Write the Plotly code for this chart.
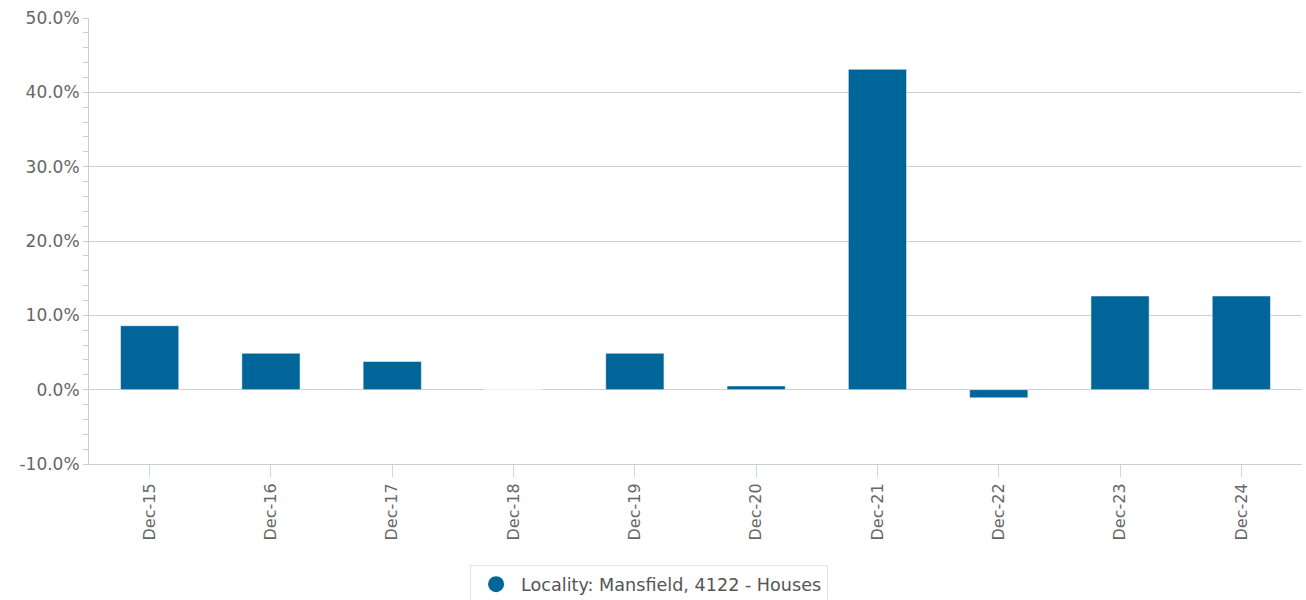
import plotly.graph_objects as go

categories = ["Dec-15", "Dec-16", "Dec-17", "Dec-18", "Dec-19",
              "Dec-20", "Dec-21", "Dec-22", "Dec-23", "Dec-24"]
growth = [8.6, 4.9, 3.8, 0.0, 4.9, 0.5, 43.1, -1.1, 12.6, 12.6]
series_name = "Locality: Mansfield, 4122 - Houses"
y_ticks = [-10, 0, 10, 20, 30, 40, 50]
y_tick_labels = [f"{v:.1f}%" for v in y_ticks]

BAR = "#006699"
FONT = "DejaVu Sans"

fig = go.Figure()
fig.add_trace(go.Bar(
    x=categories, y=growth, marker=dict(color=BAR, line=dict(color="rgba(255,255,255,0.5)", width=1)),
    showlegend=False, name=series_name,
))
fig.add_trace(go.Scatter(
    x=[None], y=[None], mode="markers", name=series_name,
    marker=dict(symbol="circle", size=17, color=BAR),
))

fig.update_layout(
    width=1306, height=600,
    margin=dict(l=89, r=4, t=18, b=136),
    paper_bgcolor="white", plot_bgcolor="white",
    font=dict(family=FONT, size=16, color="#666666"),
    bargap=0.52,
    legend=dict(
        orientation="h", xref="container", yref="container",
        x=0.497, xanchor="center", y=0.058, yanchor="top",
        bordercolor="#e3e3e3", borderwidth=1, bgcolor="white",
        itemwidth=40,
        font=dict(family=FONT, size=17.6, color="#555555"),
    ),
    xaxis=dict(
        type="category", tickangle=-90, automargin=False,
        showline=True, linecolor="#cccccc", linewidth=1,
        ticks="outside", ticklen=12, tickcolor="#ccd6eb",
        showgrid=False, tickfont=dict(size=16, color="#666666"),
    ),
    yaxis=dict(
        range=[-10, 50], tickvals=y_ticks, ticktext=y_tick_labels, automargin=False,
        showline=True, linecolor="#cccccc", linewidth=1,
        ticks="outside", ticklen=5, tickcolor="#cccccc",
        gridcolor="#d0d0d0", gridwidth=1, zeroline=False,
        minor=dict(dtick=2, ticks="outside", ticklen=5, tickcolor="#cccccc", showgrid=False),
        tickfont=dict(size=17, color="#666666"),
    ),
)

fig.write_html("out.html", config={"displayModeBar": False},
               post_script="document.body.style.margin='0';document.body.style.overflow='hidden';")
